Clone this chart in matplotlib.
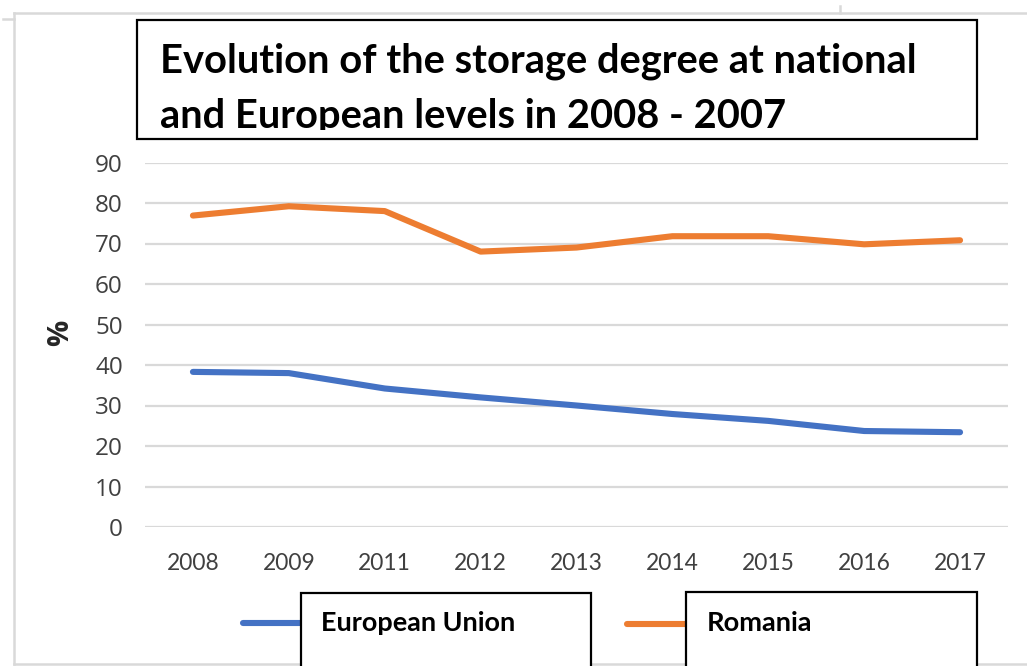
import matplotlib
matplotlib.use("Agg")
import matplotlib.pyplot as plt
from matplotlib.patches import Rectangle
from matplotlib.lines import Line2D
from matplotlib import font_manager

years = ["2008", "2009", "2011", "2012", "2013", "2014", "2015", "2016", "2017"]
eu_values = [38.3, 38.0, 34.2, 32.0, 30.0, 27.9, 26.2, 23.7, 23.4]
ro_values = [76.9, 79.2, 78.0, 68.0, 69.0, 71.8, 71.8, 69.8, 70.8]
series_names = ["European Union", "Romania"]
title_lines = ["Evolution of the storage degree at national",
               "and European levels in 2008 - 2007"]
y_ticks = [0, 10, 20, 30, 40, 50, 60, 70, 80, 90]

BLUE = "#4472C4"
ORANGE = "#ED7D31"
GRID = "#D9D9D9"
TICK = "#404040"

avail = {f.name for f in font_manager.fontManager.ttflist}
def pick(*names):
    for n in names:
        if n in avail:
            return n
    return "DejaVu Sans"

TITLE_FONT = pick("Lato", "Open Sans", "Noto Sans")
XTICK_FONT = pick("Lato", "Open Sans", "DejaVu Sans")
YTICK_FONT = pick("Open Sans", "Noto Sans", "DejaVu Sans")

W, H = 1027, 666
fig = plt.figure(figsize=(W / 100, H / 100), dpi=100)
fig.patch.set_facecolor("white")

def fx(x):
    return x / W
def fy(y):
    return 1 - y / H

# axes
ax = fig.add_axes([fx(145), fy(527), fx(1008) - fx(145), fy(162.5) - fy(527)])
x = list(range(len(years)))
ax.plot(x, eu_values, color=BLUE, lw=4.4, solid_capstyle="round", solid_joinstyle="round", zorder=3)
ax.plot(x, ro_values, color=ORANGE, lw=4.4, solid_capstyle="round", solid_joinstyle="round", zorder=3)
ax.set_xlim(-0.5, len(years) - 0.5)
ax.set_ylim(0, 90)
ax.set_yticks(y_ticks)
ax.set_yticklabels([str(v) for v in y_ticks])
ax.set_xticks(x)
ax.set_xticklabels(years)
ax.grid(axis="y", color=GRID, lw=1.6, zorder=0)
ax.set_axisbelow(True)
for s in ax.spines.values():
    s.set_visible(False)
ax.tick_params(axis="both", length=0)
ax.tick_params(axis="y", pad=16, labelcolor=TICK)
ax.tick_params(axis="x", pad=18.5, labelcolor=TICK)
for lab in ax.get_yticklabels():
    lab.set_fontfamily(YTICK_FONT)
    lab.set_fontsize(17.5)
for lab in ax.get_xticklabels():
    lab.set_fontfamily(XTICK_FONT)
    lab.set_fontsize(16.4)

fig.text(fx(61), fy(333), "%", rotation=90, fontsize=21, fontweight="bold",
         fontfamily=YTICK_FONT, ha="center", va="center", color="#262626")

# outer frame lines
for (x0, y0, x1, y1) in [(14, 13, 1027, 13), (14, 13, 14, 664), (14, 664, 1027, 664),
                         (3, 19, 14, 19), (840, 6, 840, 13)]:
    fig.add_artist(Line2D([fx(x0), fx(x1)], [fy(y0), fy(y1)], transform=fig.transFigure,
                          color=GRID, lw=1.8))

# title box
tbox = Rectangle((fx(137), fy(139)), fx(977) - fx(137), fy(20) - fy(139),
                 transform=fig.transFigure, facecolor="white", edgecolor="black", lw=1.6, zorder=5)
fig.add_artist(tbox)
clip = Rectangle((fx(137), fy(130)), fx(977) - fx(137), fy(20) - fy(130),
                 transform=fig.transFigure, facecolor="none", edgecolor="none")
fig.add_artist(clip)

t1 = fig.text(fx(160), fy(72), title_lines[0], fontsize=28, fontweight="bold",
              fontfamily=TITLE_FONT, ha="left", va="baseline", zorder=6)
t2 = fig.text(fx(160), fy(128), title_lines[1], fontsize=28, fontweight="bold",
              fontfamily=TITLE_FONT, ha="left", va="baseline", zorder=6)
t2.set_clip_path(clip)

# legend
leg_boxes = [(300.5, 592.5, 591), (686, 592, 977)]
leg_lines = [(243, 300.5, 623, BLUE), (627, 686, 624, ORANGE)]
leg_text_x = [321, 707]
texts = []
for i, name in enumerate(series_names):
    lx0, lx1, ly, c = leg_lines[i]
    fig.add_artist(Line2D([fx(lx0), fx(lx1)], [fy(ly), fy(ly)], transform=fig.transFigure,
                          color=c, lw=4.4, solid_capstyle="round", zorder=4))
    bx0, by0, bx1 = leg_boxes[i]
    fig.add_artist(Rectangle((fx(bx0), fy(700)), fx(bx1) - fx(bx0), fy(by0) - fy(700),
                             transform=fig.transFigure, facecolor="white", edgecolor="black",
                             lw=1.6, zorder=5))
    texts.append(fig.text(fx(leg_text_x[i]), fy(623), name, fontsize=15, fontweight="bold",
                          fontfamily=TITLE_FONT, ha="left", va="center", zorder=6))

# fit text widths to the reference
fig.canvas.draw()
r = fig.canvas.get_renderer()
def fit(t, target):
    w = t.get_window_extent(r).width
    t.set_fontsize(t.get_fontsize() * target / w)
fit(t1, 757)
t2.set_fontsize(t1.get_fontsize())
fit(texts[0], 195)
fit(texts[1], 106)

fig.savefig("out.png", dpi=100, facecolor="white")
